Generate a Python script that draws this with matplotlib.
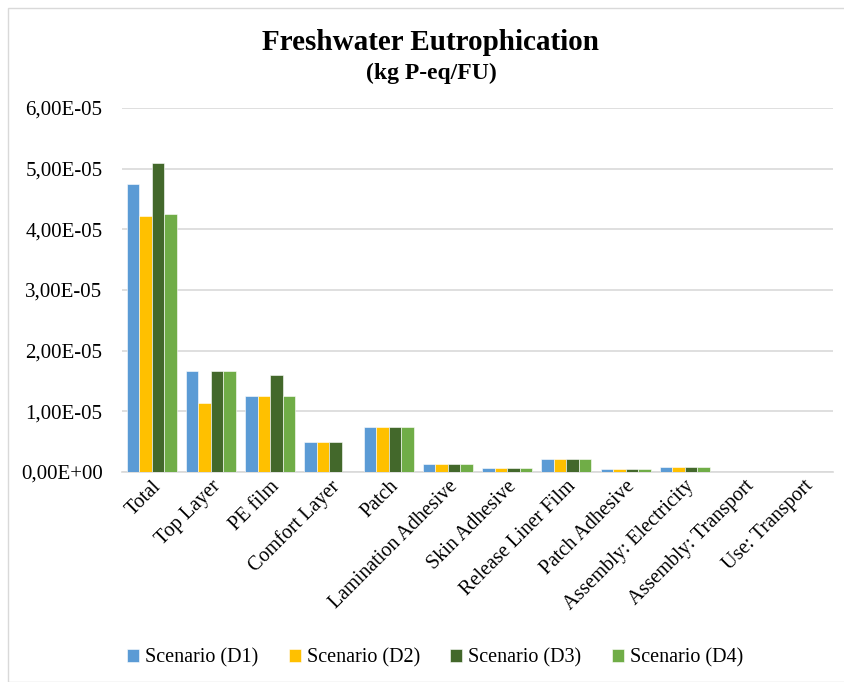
import numpy as np
import matplotlib.pyplot as plt
from matplotlib.ticker import FuncFormatter
from matplotlib.patches import Rectangle

plt.rcParams['font.family'] = ['Liberation Serif', 'DejaVu Serif']

categories = ["Total", "Top Layer", "PE film", "Comfort Layer", "Patch",
              "Lamination Adhesive", "Skin Adhesive", "Release Liner Film",
              "Patch Adhesive", "Assembly: Electricity", "Assembly: Transport",
              "Use: Transport"]

# kg P-eq per functional unit
d1 = [4.75e-5, 1.66e-5, 1.25e-5, 0.50e-5, 0.75e-5, 0.127e-5, 0.06e-5, 0.22e-5, 0.05e-5, 0.078e-5, 0.008e-5, 0.004e-5]
d2 = [4.22e-5, 1.13e-5, 1.25e-5, 0.50e-5, 0.75e-5, 0.127e-5, 0.06e-5, 0.22e-5, 0.05e-5, 0.078e-5, 0.008e-5, 0.004e-5]
d3 = [5.10e-5, 1.66e-5, 1.60e-5, 0.50e-5, 0.75e-5, 0.127e-5, 0.06e-5, 0.22e-5, 0.05e-5, 0.078e-5, 0.008e-5, 0.004e-5]
d4 = [4.25e-5, 1.66e-5, 1.25e-5, 0.0, 0.75e-5, 0.127e-5, 0.06e-5, 0.22e-5, 0.05e-5, 0.078e-5, 0.008e-5, 0.004e-5]

series = [d1, d2, d3, d4]
names = ["Scenario (D1)", "Scenario (D2)", "Scenario (D3)", "Scenario (D4)"]
colors = ["#5B9BD5", "#FFC000", "#43682B", "#70AD47"]

fig = plt.figure(figsize=(8.45, 6.82), dpi=100)
ax = fig.add_axes([122/845, 1 - 472/682, (833 - 122)/845, (472 - 108)/682])

# outer chart frame
fig.patches.append(Rectangle((8/845, 0.0), 1.0, 1 - 8/682, transform=fig.transFigure,
                             fill=False, edgecolor='#D9D9D9', linewidth=1))

x = np.arange(len(categories))
w = 0.21
for i, (vals, name, col) in enumerate(zip(series, names, colors)):
    ax.bar(x + (i - 1.5) * w, vals, width=w, color=col, label=name,
           edgecolor='white', linewidth=0.4, zorder=3)

ax.set_xlim(-0.5, len(categories) - 0.5)
ax.set_ylim(0, 6e-5)
ax.set_yticks(np.arange(0, 6.01e-5, 1e-5))
ax.yaxis.set_major_formatter(FuncFormatter(
    lambda v, p: ("%.2E" % v).replace('.', ',')))
ax.grid(axis='y', color='#D9D9D9', linewidth=1.2, zorder=0)
ax.tick_params(axis='y', length=0, labelsize=15, pad=14)
ax.tick_params(axis='x', length=0, labelsize=14.5)
ax.set_xticks(x)
ax.set_xticklabels(categories, rotation=45, ha='right', rotation_mode='anchor')
for s in ['top', 'right', 'left']:
    ax.spines[s].set_visible(False)
ax.spines['bottom'].set_color('#D9D9D9')
ax.spines['bottom'].set_linewidth(1.2)

fig.text(0.51, 1 - 42/682, "Freshwater Eutrophication", ha='center', va='center',
         fontsize=21, fontweight='bold')
fig.text(0.51, 1 - 73/682, "(kg P-eq/FU)", ha='center', va='center',
         fontsize=17, fontweight='bold')

fig.legend(loc='center', bbox_to_anchor=(0.515, 1 - 658/682), ncol=4, frameon=False,
           fontsize=14.5, handlelength=0.6, handleheight=0.6, handletextpad=0.3,
           columnspacing=1.5)

fig.savefig("out.png", dpi=100)
